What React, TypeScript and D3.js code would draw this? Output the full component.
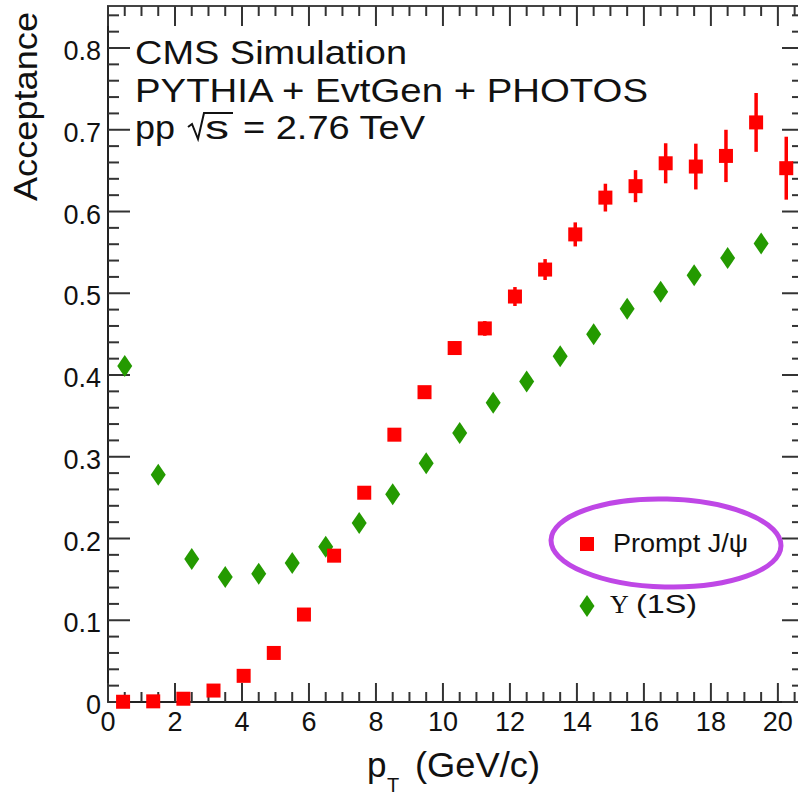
import React from "react";
import * as d3 from "d3";

// Prompt J/psi acceptance vs pT (bin centres, GeV/c)
const ptJpsi = [0.45, 1.35, 2.25, 3.15, 4.05, 4.95, 5.85, 6.75, 7.65, 8.55, 9.45, 10.35, 11.25, 12.15, 13.05, 13.95, 14.85, 15.75, 16.65, 17.55, 18.45, 19.35, 20.25];
const accJpsi = [0.0003, 0.0008, 0.004, 0.014, 0.032, 0.06, 0.107, 0.179, 0.256, 0.327, 0.379, 0.433, 0.457, 0.496, 0.529, 0.572, 0.617, 0.631, 0.659, 0.655, 0.668, 0.709, 0.653];
const errJpsi = [0.0005, 0.0005, 0.001, 0.001, 0.002, 0.002, 0.003, 0.004, 0.005, 0.006, 0.007, 0.008, 0.009, 0.0116, 0.0128, 0.0147, 0.017, 0.0196, 0.0245, 0.028, 0.032, 0.036, 0.0385];

// Upsilon(1S) acceptance vs pT
const ptUps = [0.5, 1.5, 2.5, 3.5, 4.5, 5.5, 6.5, 7.5, 8.5, 9.5, 10.5, 11.5, 12.5, 13.5, 14.5, 15.5, 16.5, 17.5, 18.5, 19.5];
const accUps = [0.411, 0.278, 0.175, 0.153, 0.157, 0.17, 0.19, 0.219, 0.254, 0.292, 0.329, 0.366, 0.392, 0.423, 0.45, 0.481, 0.502, 0.522, 0.543, 0.561];

const xMajor = [0, 2, 4, 6, 8, 10, 12, 14, 16, 18, 20];
const yMajor = [0, 0.1, 0.2, 0.3, 0.4, 0.5, 0.6, 0.7, 0.8];
const xTickLabels = ["0", "2", "4", "6", "8", "10", "12", "14", "16", "18", "20"];
const yTickLabels = ["0", "0.1", "0.2", "0.3", "0.4", "0.5", "0.6", "0.7", "0.8"];

const titleLines = ["CMS Simulation", "PYTHIA + EvtGen + PHOTOS"];
const legendLabels = ["Prompt J/\u03c8", "(1S)"];

const RED = "#ff0000";
const GREEN = "#249a00";
const FONT = "'Liberation Sans', Arial, Helvetica, sans-serif";

const W = 798;
const H = 795;
const L = 108;
const R = 803;
const T = 6;
const B = 702;

export default function App() {
  const x = d3.scaleLinear().domain([0, 20.75]).range([L, R]);
  const y = d3.scaleLinear().domain([0, 0.8514]).range([B, T]);

  const xMinor = d3.range(0, 20.75, 0.5).filter((v) => Math.abs(v / 2 - Math.round(v / 2)) > 1e-6);
  const yMinor = d3.range(0, 0.85, 0.02).filter((v) => Math.abs(v * 10 - Math.round(v * 10)) > 1e-6);

  const sq = 14;
  const diamond = (cx: number, cy: number) =>
    `M${cx},${cy - 11}L${cx + 7.5},${cy}L${cx},${cy + 11}L${cx - 7.5},${cy}Z`;

  const tickColor = "#333";

  return (
    <svg
      width={W}
      height={H}
      style={{ position: "absolute", left: 0, top: 0, background: "#fff" }}
      fontFamily={FONT}
    >
      <rect x={0} y={0} width={W} height={H} fill="#fff" />

      {/* frame */}
      <rect x={L} y={T} width={R - L} height={B - T} fill="none" stroke="#444" strokeWidth={2} />
      <line x1={L} y1={T} x2={L} y2={B} stroke="#222" strokeWidth={2} />
      <line x1={L} y1={B} x2={R} y2={B} stroke="#222" strokeWidth={2} />

      {/* x ticks: bottom and top */}
      {xMajor.map((v) => (
        <g key={"xm" + v}>
          <line x1={x(v)} x2={x(v)} y1={B} y2={B - 19} stroke={tickColor} strokeWidth={2} />
          <line x1={x(v)} x2={x(v)} y1={T} y2={T + 20} stroke={tickColor} strokeWidth={2} />
        </g>
      ))}
      {xMinor.map((v) => (
        <g key={"xn" + v}>
          <line x1={x(v)} x2={x(v)} y1={B} y2={B - 10} stroke={tickColor} strokeWidth={2} />
          <line x1={x(v)} x2={x(v)} y1={T} y2={T + 10} stroke={tickColor} strokeWidth={2} />
        </g>
      ))}

      {/* y ticks: left and right */}
      {yMajor.map((v) => (
        <g key={"ym" + v}>
          <line x1={L} x2={L + 22} y1={y(v)} y2={y(v)} stroke={tickColor} strokeWidth={2} />
          <line x1={R} x2={R - 21} y1={y(v)} y2={y(v)} stroke={tickColor} strokeWidth={2} />
        </g>
      ))}
      {yMinor.map((v) => (
        <g key={"yn" + v}>
          <line x1={L} x2={L + 11} y1={y(v)} y2={y(v)} stroke={tickColor} strokeWidth={2} />
          <line x1={R} x2={R - 11} y1={y(v)} y2={y(v)} stroke={tickColor} strokeWidth={2} />
        </g>
      ))}

      {/* tick labels */}
      {xMajor.map((v, i) => (
        <text key={"xl" + v} x={x(v)} y={731} fontSize={27} textAnchor="middle" fill="#111">
          {xTickLabels[i]}
        </text>
      ))}
      {yMajor.map((v, i) => (
        <text key={"yl" + v} x={101} y={y(v) + 12} fontSize={27} textAnchor="end" fill="#111">
          {yTickLabels[i]}
        </text>
      ))}

      {/* axis titles */}
      <text
        transform="translate(37,201) rotate(-90)"
        fontSize={33}
        textLength={189}
        lengthAdjust="spacingAndGlyphs"
        fill="#111"
      >
        Acceptance
      </text>
      <text x={367} y={777} fontSize={35} fill="#111">p</text>
      <text x={387} y={792} fontSize={20} fill="#111">T</text>
      <text x={415} y={777} fontSize={35} textLength={125} lengthAdjust="spacingAndGlyphs" fill="#111">
        (GeV/c)
      </text>

      {/* header text */}
      <text x={135} y={64} fontSize={33} textLength={272} lengthAdjust="spacingAndGlyphs" fill="#111">
        {titleLines[0]}
      </text>
      <text x={135} y={102} fontSize={33} textLength={513} lengthAdjust="spacingAndGlyphs" fill="#111">
        {titleLines[1]}
      </text>
      <text x={135} y={139} fontSize={33} textLength={40} lengthAdjust="spacingAndGlyphs" fill="#111">
        pp
      </text>
      <path d="M188,127 L192,124 L198,139 L204,113 L233,113" fill="none" stroke="#111" strokeWidth={2} />
      <text x={205} y={139} fontSize={33} textLength={24} lengthAdjust="spacingAndGlyphs" fill="#111">
        s
      </text>
      <text x={243} y={139} fontSize={33} textLength={182} lengthAdjust="spacingAndGlyphs" fill="#111">
        = 2.76 TeV
      </text>

      {/* Upsilon(1S) markers */}
      {ptUps.map((v, i) => (
        <path key={"u" + i} d={diamond(x(v), y(accUps[i]))} fill={GREEN} />
      ))}

      {/* J/psi error bars and markers */}
      {ptJpsi.map((v, i) => (
        <line
          key={"e" + i}
          x1={x(v)}
          x2={x(v)}
          y1={y(accJpsi[i] - errJpsi[i])}
          y2={y(accJpsi[i] + errJpsi[i])}
          stroke={RED}
          strokeWidth={3.5}
        />
      ))}
      {ptJpsi.map((v, i) => (
        <rect key={"j" + i} x={x(v) - sq / 2} y={y(accJpsi[i]) - sq / 2} width={sq} height={sq} fill={RED} />
      ))}

      {/* legend */}
      <rect x={587 - sq / 2} y={544 - sq / 2} width={sq} height={sq} fill={RED} />
      <text x={613} y={552} fontSize={26} textLength={135} lengthAdjust="spacingAndGlyphs" fill="#111">
        {legendLabels[0]}
      </text>
      <path d={diamond(587, 606)} fill={GREEN} />
      <text x={610} y={613} fontSize={26} fill="#111" fontFamily="'Liberation Serif', 'DejaVu Serif', serif">
        {"\u03a5"}
      </text>
      <text x={636} y={613} fontSize={26} textLength={61} lengthAdjust="spacingAndGlyphs" fill="#111">
        {legendLabels[1]}
      </text>

      {/* highlight ring */}
      <ellipse cx={666} cy={543} rx={115} ry={44} fill="none" stroke="#bf47e6" strokeWidth={5} transform="rotate(1.5,666,543)" />
    </svg>
  );
}
